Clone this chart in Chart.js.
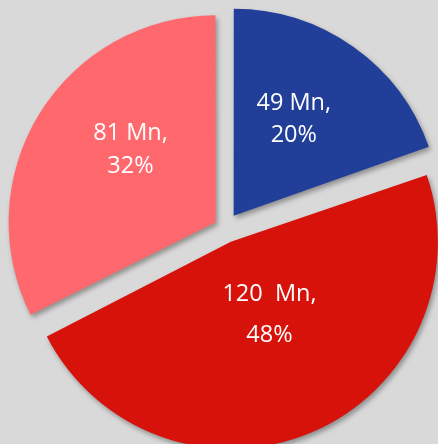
<!DOCTYPE html>
<html>
<head>
<meta charset="utf-8">
<script src="https://cdn.jsdelivr.net/npm/chart.js@4.4.1/dist/chart.umd.min.js"></script>
<style>
  html, body { margin: 0; padding: 0; background: #d9d9d9; overflow: hidden; }
  #wrap { position: absolute; left: 0; top: 0; width: 450px; height: 456px; }
</style>
</head>
<body>
<div id="wrap"><canvas id="myChart"></canvas></div>
<script>
let labels1 = ['Segment A', 'Segment B', 'Segment C'];

let data1 = [49, 120, 81];

let valueText = ['49 Mn,', '120  Mn,', '81 Mn,'];
let percentText = ['20%', '48%', '32%'];

let colors1 = ['#213f99', '#d6120b', '#ff696e'];

// Chart.js grows the radius of wide exploded slices; undo that so all slices share one radius
const keepRadius = {
    id: 'keepRadius',
    afterDatasetUpdate(chart, args) {
        args.meta.data.forEach(arc => {
            const push = (arc.options.offset || 0) / 4;
            const fix = 1 - Math.sin(Math.min(Math.PI, arc.circumference));
            arc.outerRadius -= push * fix;
        });
    }
};

// white labels inside each slice, placed from the arc geometry
const sliceLabels = {
    id: 'sliceLabels',
    afterDatasetsDraw(chart, args, opts) {
        const ctx = chart.ctx;
        const meta = chart.getDatasetMeta(0);
        meta.data.forEach((arc, i) => {
            const p = arc.getProps(['x', 'y', 'startAngle', 'endAngle'], true);
            const mid = (p.startAngle + p.endAngle) / 2 + opts.angleShift[i] * Math.PI / 180;
            const push = (arc.options.offset || 0) / 4;
            const r = chart.options.radius * opts.distance[i] + push;
            const cx = p.x + Math.cos(mid) * r;
            const cy = p.y + Math.sin(mid) * r;
            const gap = opts.lineGap[i];
            ctx.save();
            ctx.fillStyle = '#ffffff';
            ctx.font = opts.font;
            ctx.textAlign = 'center';
            ctx.textBaseline = 'middle';
            ctx.fillText(valueText[i], cx, cy - gap / 2);
            ctx.fillText(percentText[i], cx, cy + gap / 2);
            ctx.restore();
        });
    }
};

// soft drop shadow under the slices
const sliceShadow = {
    id: 'sliceShadow',
    beforeDatasetsDraw(chart) {
        const ctx = chart.ctx;
        ctx.save();
        ctx.shadowColor = 'rgba(0,0,0,0.35)';
        ctx.shadowBlur = 5;
        ctx.shadowOffsetX = 2;
        ctx.shadowOffsetY = 3;
    },
    afterDatasetsDraw(chart) {
        chart.ctx.restore();
    }
};

let myChart = document.getElementById('myChart').getContext('2d');

let chart = new Chart(myChart, {
    type: 'pie',
    data: {
        labels: labels1,
        datasets: [{
            data: data1,
            backgroundColor: colors1,
            borderWidth: 0,
            offset: [60, 60, 44]
        }]
    },
    options: {
        responsive: true,
        maintainAspectRatio: false,
        animation: false,
        radius: 207,
        layout: { padding: 0 },
        plugins: {
            legend: { display: false },
            tooltip: { enabled: false },
            sliceLabels: {
                font: '23.5px "Open Sans"',
                angleShift: [-3, -4, 8],
                distance: [0.55, 0.40, 0.54],
                lineGap: [32, 41, 33]
            }
        }
    },
    plugins: [keepRadius, sliceShadow, sliceLabels]
});
</script>
</body>
</html>
